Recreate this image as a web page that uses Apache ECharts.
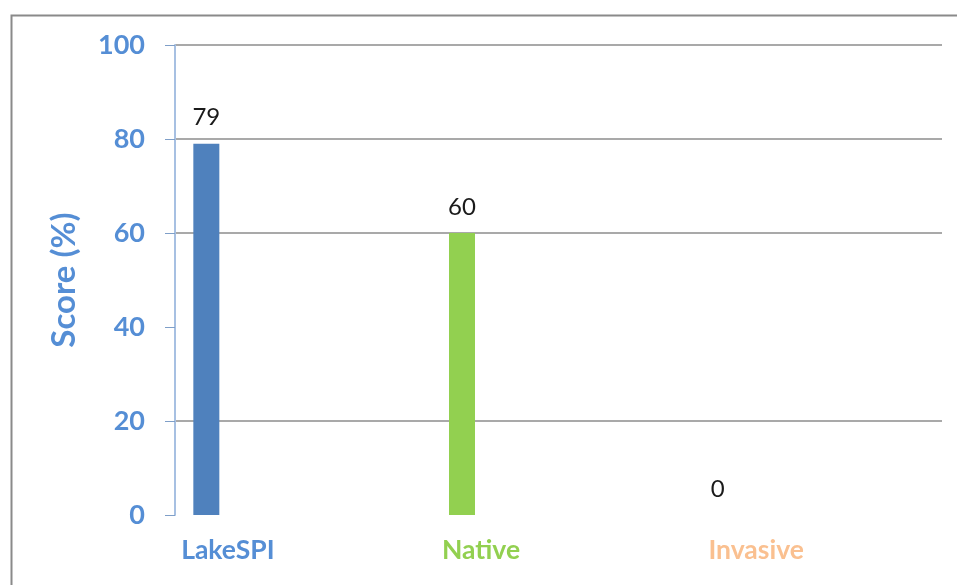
<!DOCTYPE html>
<html>
<head>
<meta charset="utf-8">
<script src="https://cdn.jsdelivr.net/npm/echarts@6/dist/echarts.min.js"></script>
<style>
  html, body { margin: 0; padding: 0; background: #fff; }
  #chart { width: 957px; height: 585px; }
</style>
</head>
<body>
<div id="chart"></div>
<script>
// Lake condition scores
const categories = ['LakeSPI', 'Native', 'Invasive'];
const scores = [79, 60, 0];
const barColors = ['#4F81BD', '#92D050', '#F79646'];
const labelColors = ['#558ED5', '#92D050', '#FAC090'];
const yTicks = [0, 20, 40, 60, 80, 100];

// horizontal-shift (right padding) for each category caption
const captionShift = [150, 155, 116];
const captionKeys = ['c0', 'c1', 'c2'];

const rich = {};
categories.forEach((c, i) => {
  rich[captionKeys[i]] = {
    color: labelColors[i],
    fontFamily: 'Lato',
    fontWeight: 'bold',
    fontSize: 26.5,
    padding: [0, captionShift[i], 0, 0]
  };
});

// grid lines: drawn at 20, 60, 80, 100 only
const gridColors = yTicks.map(v => (v === 0 || v === 40) ? 'rgba(0,0,0,0)' : '#8C8C8C');

const chart = echarts.init(document.getElementById('chart'));
chart.setOption({
  backgroundColor: '#ffffff',
  animation: false,
  graphic: [{
    type: 'rect',
    left: 9, top: 13,
    shape: { width: 980, height: 600 },
    style: { fill: 'none', stroke: '#8A8A8A', lineWidth: 2 },
    silent: true
  }],
  grid: { left: 175, right: 15, top: 45, bottom: 70 },
  xAxis: {
    type: 'category',
    data: categories,
    axisLine: { show: false },
    axisTick: { show: false },
    axisLabel: {
      margin: 22,
      rich: rich,
      formatter: (v, i) => '{' + captionKeys[i] + '|' + v + '}'
    }
  },
  yAxis: {
    type: 'value',
    min: 0, max: 100, interval: 20,
    name: 'Score (%)',
    nameLocation: 'middle',
    nameGap: 94,
    nameRotate: 90,
    nameTextStyle: {
      color: '#558ED5', fontFamily: 'Lato', fontWeight: 'bold', fontSize: 33
    },
    axisLine: { show: true, lineStyle: { color: '#A7C0E2', width: 2 } },
    axisTick: { show: true, length: 10, lineStyle: { color: '#7F9FC8', width: 1 } },
    axisLabel: {
      margin: 30,
      color: '#558ED5',
      fontFamily: 'Lato',
      fontWeight: 'bold',
      fontSize: 27
    },
    splitLine: { show: true, lineStyle: { color: gridColors, width: 1.5 } }
  },
  series: [
    {
      type: 'bar',
      barWidth: 26,
      barGap: '0%',
      data: scores.map((v, i) => ({ value: v, itemStyle: { color: barColors[i] } })),
      label: {
        show: true,
        position: 'top',
        distance: 14,
        color: '#1A1A1A',
        fontFamily: 'Lato',
        fontSize: 24
      }
    },
    {
      // empty companion series that keeps each bar toward the left of its band
      type: 'bar',
      barWidth: 193,
      data: categories.map(() => null),
      silent: true
    }
  ]
});
</script>
</body>
</html>
